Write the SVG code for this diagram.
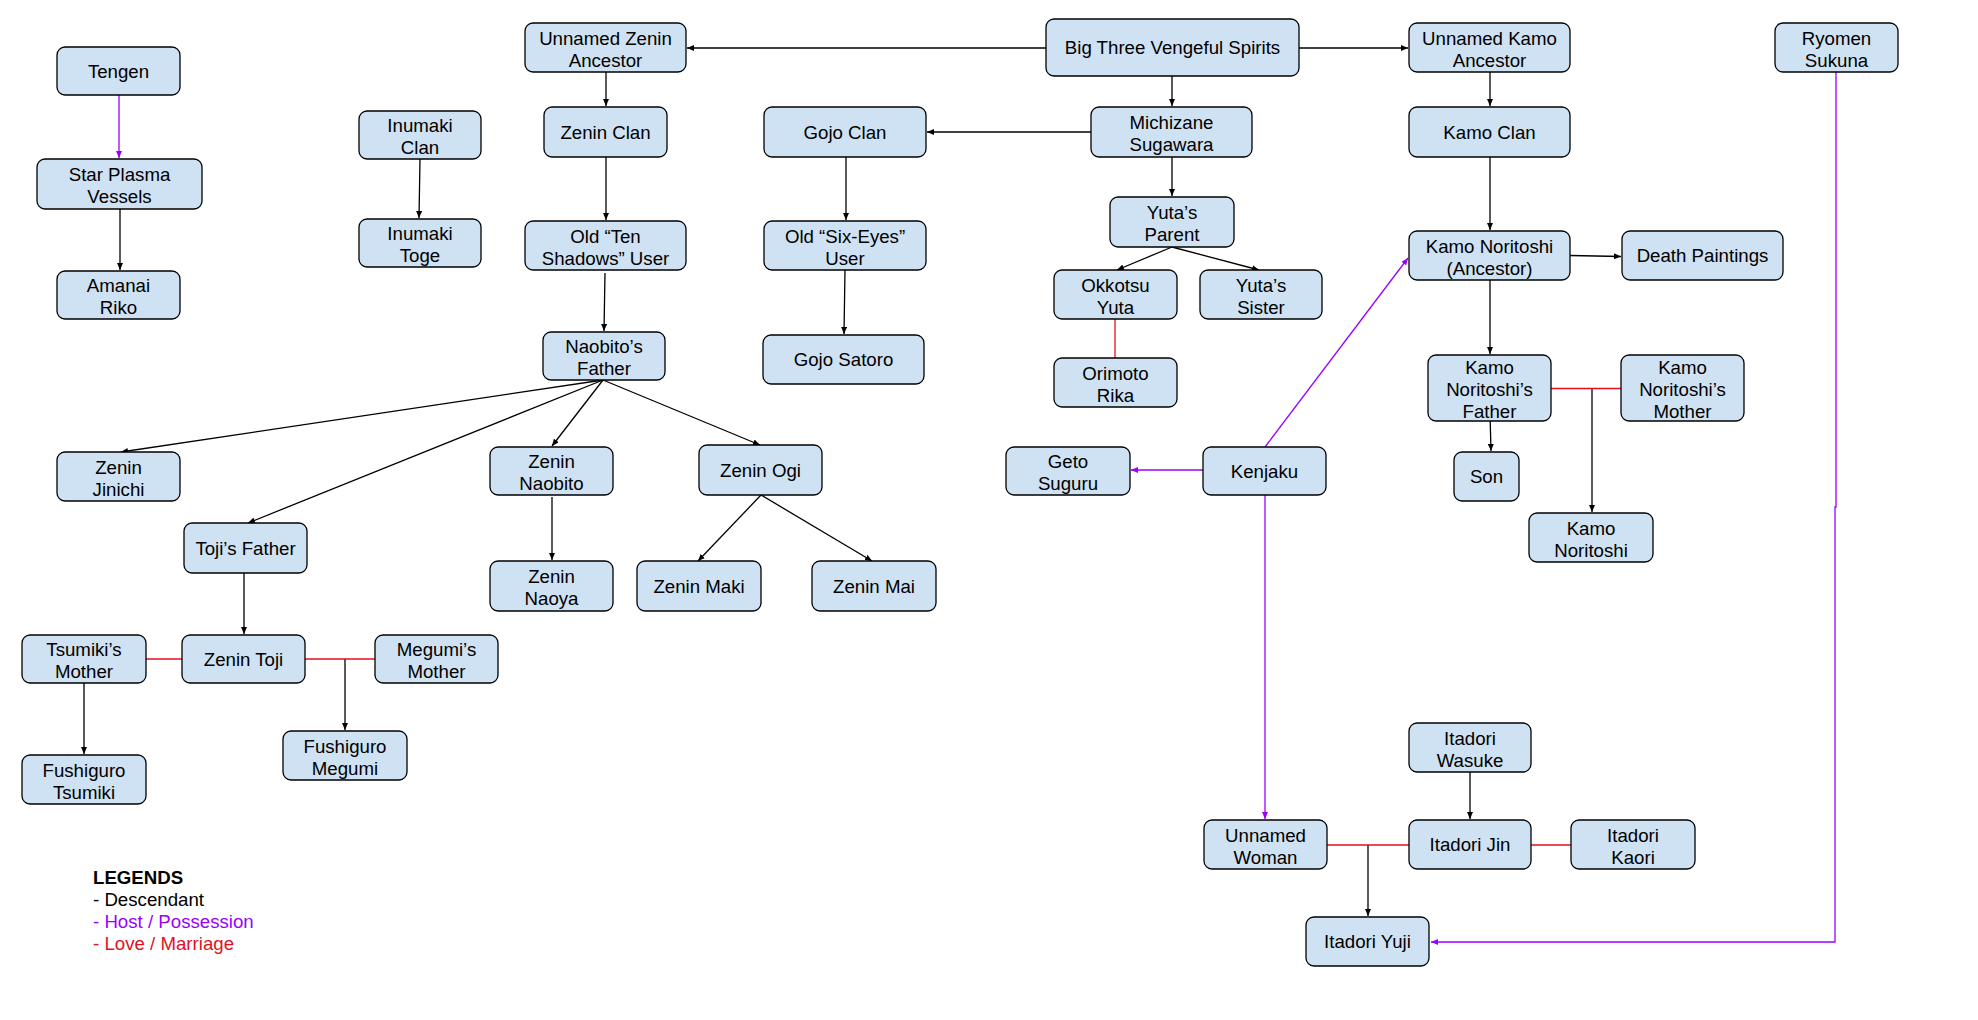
<svg xmlns="http://www.w3.org/2000/svg" width="1978" height="1020" viewBox="0 0 1978 1020">
<defs>
<style>
.n rect{fill:#cfe2f3;stroke:#000;stroke-width:1.3}
.n text{font-family:"Liberation Sans",Arial,sans-serif;font-size:18.67px;fill:#000;text-anchor:middle}
.d{stroke:#000;stroke-width:1.3;fill:none}
.p{stroke:#9900ff;stroke-width:1.3;fill:none}
.r{stroke:#e3101e;stroke-width:1.3;fill:none}
.lg{font-family:"Liberation Sans",Arial,sans-serif;font-size:18.67px}
</style>
<marker id="ab" markerUnits="userSpaceOnUse" markerWidth="8" markerHeight="6" refX="7" refY="3" orient="auto"><path d="M0,0 L7,3 L0,6 z" fill="#000"/></marker>
<marker id="ap" markerUnits="userSpaceOnUse" markerWidth="8" markerHeight="6" refX="7" refY="3" orient="auto"><path d="M0,0 L7,3 L0,6 z" fill="#9900ff"/></marker>
</defs>
<rect width="1978" height="1020" fill="#fff"/>
<g id="connectors">
<line class="d" x1="1046" y1="48" x2="687" y2="48" marker-end="url(#ab)"/>
<line class="d" x1="1299" y1="48" x2="1408" y2="48" marker-end="url(#ab)"/>
<line class="d" x1="1172" y1="76" x2="1172" y2="106" marker-end="url(#ab)"/>
<line class="d" x1="1091" y1="132" x2="927" y2="132" marker-end="url(#ab)"/>
<line class="d" x1="1172" y1="157" x2="1172" y2="196" marker-end="url(#ab)"/>
<line class="d" x1="1172" y1="247" x2="1117" y2="270" marker-end="url(#ab)"/>
<line class="d" x1="1172" y1="247" x2="1259" y2="270" marker-end="url(#ab)"/>
<line class="d" x1="846" y1="157" x2="846" y2="220" marker-end="url(#ab)"/>
<line class="d" x1="845" y1="270" x2="844" y2="334" marker-end="url(#ab)"/>
<line class="d" x1="606" y1="72" x2="606" y2="106" marker-end="url(#ab)"/>
<line class="d" x1="606" y1="157" x2="606" y2="220" marker-end="url(#ab)"/>
<line class="d" x1="605" y1="273" x2="604" y2="331" marker-end="url(#ab)"/>
<line class="d" x1="603" y1="380" x2="121" y2="452" marker-end="url(#ab)"/>
<line class="d" x1="603" y1="380" x2="248" y2="523" marker-end="url(#ab)"/>
<line class="d" x1="603" y1="380" x2="552" y2="446" marker-end="url(#ab)"/>
<line class="d" x1="603" y1="380" x2="760" y2="445" marker-end="url(#ab)"/>
<line class="d" x1="552" y1="497" x2="552" y2="560" marker-end="url(#ab)"/>
<line class="d" x1="761" y1="495" x2="698" y2="561" marker-end="url(#ab)"/>
<line class="d" x1="761" y1="495" x2="872" y2="561" marker-end="url(#ab)"/>
<line class="d" x1="244" y1="573" x2="244" y2="634" marker-end="url(#ab)"/>
<line class="d" x1="345" y1="659" x2="345" y2="730" marker-end="url(#ab)"/>
<line class="d" x1="84" y1="683" x2="84" y2="754" marker-end="url(#ab)"/>
<line class="d" x1="120" y1="209" x2="120" y2="270" marker-end="url(#ab)"/>
<line class="d" x1="420" y1="159" x2="419" y2="218" marker-end="url(#ab)"/>
<line class="d" x1="1490" y1="72" x2="1490" y2="106" marker-end="url(#ab)"/>
<line class="d" x1="1490" y1="157" x2="1490" y2="230" marker-end="url(#ab)"/>
<line class="d" x1="1570" y1="255.5" x2="1621" y2="256.5" marker-end="url(#ab)"/>
<line class="d" x1="1490" y1="280" x2="1490" y2="354" marker-end="url(#ab)"/>
<line class="d" x1="1490" y1="414" x2="1491" y2="451" marker-end="url(#ab)"/>
<line class="d" x1="1592" y1="388.5" x2="1592" y2="512" marker-end="url(#ab)"/>
<line class="d" x1="1470" y1="772" x2="1470" y2="819" marker-end="url(#ab)"/>
<line class="d" x1="1368" y1="845" x2="1368" y2="916" marker-end="url(#ab)"/>
<line class="r" x1="1115" y1="319" x2="1115" y2="358"/>
<line class="r" x1="146" y1="659" x2="182" y2="659"/>
<line class="r" x1="305" y1="659" x2="375" y2="659"/>
<line class="r" x1="1551" y1="388.5" x2="1621" y2="388.5"/>
<line class="r" x1="1327" y1="845" x2="1409" y2="845"/>
<line class="r" x1="1531" y1="845" x2="1571" y2="845"/>
<line class="p" x1="119" y1="95" x2="119" y2="158" marker-end="url(#ap)"/>
<line class="p" x1="1203" y1="470" x2="1131" y2="470" marker-end="url(#ap)"/>
<line class="p" x1="1265" y1="447" x2="1408" y2="258" marker-end="url(#ap)"/>
<line class="p" x1="1265" y1="495" x2="1265" y2="819" marker-end="url(#ap)"/>
<polyline class="p" points="1836,72 1836,507 1835,507 1835,942 1431,942" marker-end="url(#ap)"/>
</g>
<g id="tengen" class="n"><rect x="57" y="47" width="123" height="48" rx="8"/><text x="118.5" y="77.7">Tengen</text></g>
<g id="star-plasma-vessels" class="n"><rect x="37" y="159" width="165" height="50" rx="8"/><text x="119.5"><tspan x="119.5" y="181">Star Plasma</tspan><tspan x="119.5" y="203">Vessels</tspan></text></g>
<g id="amanai-riko" class="n"><rect x="57" y="271" width="123" height="48" rx="8"/><text><tspan x="118.5" y="292">Amanai</tspan><tspan x="118.5" y="314">Riko</tspan></text></g>
<g id="inumaki-clan" class="n"><rect x="359" y="111" width="122" height="48" rx="8"/><text><tspan x="420" y="132">Inumaki</tspan><tspan x="420" y="154">Clan</tspan></text></g>
<g id="inumaki-toge" class="n"><rect x="359" y="219" width="122" height="48" rx="8"/><text><tspan x="420" y="240">Inumaki</tspan><tspan x="420" y="262">Toge</tspan></text></g>
<g id="unnamed-zenin-ancestor" class="n"><rect x="525" y="23" width="161" height="49" rx="8"/><text><tspan x="605.5" y="44.5">Unnamed Zenin</tspan><tspan x="605.5" y="66.5">Ancestor</tspan></text></g>
<g id="zenin-clan" class="n"><rect x="544" y="107" width="123" height="50" rx="8"/><text x="605.5" y="138.7">Zenin Clan</text></g>
<g id="old-ten-shadows-user" class="n"><rect x="525" y="221" width="161" height="49" rx="8"/><text><tspan x="605.5" y="242.5">Old “Ten</tspan><tspan x="605.5" y="264.5">Shadows” User</tspan></text></g>
<g id="naobitos-father" class="n"><rect x="543" y="332" width="122" height="48" rx="8"/><text><tspan x="604" y="353">Naobito’s</tspan><tspan x="604" y="375">Father</tspan></text></g>
<g id="zenin-jinichi" class="n"><rect x="57" y="452" width="123" height="49" rx="8"/><text><tspan x="118.5" y="473.5">Zenin</tspan><tspan x="118.5" y="495.5">Jinichi</tspan></text></g>
<g id="tojis-father" class="n"><rect x="184" y="523" width="123" height="50" rx="8"/><text x="245.5" y="554.7">Toji’s Father</text></g>
<g id="zenin-naobito" class="n"><rect x="490" y="447" width="123" height="48" rx="8"/><text><tspan x="551.5" y="468">Zenin</tspan><tspan x="551.5" y="490">Naobito</tspan></text></g>
<g id="zenin-naoya" class="n"><rect x="490" y="561" width="123" height="50" rx="8"/><text><tspan x="551.5" y="583">Zenin</tspan><tspan x="551.5" y="605">Naoya</tspan></text></g>
<g id="zenin-ogi" class="n"><rect x="699" y="445" width="123" height="50" rx="8"/><text x="760.5" y="476.7">Zenin Ogi</text></g>
<g id="zenin-maki" class="n"><rect x="637" y="561" width="124" height="50" rx="8"/><text x="699" y="592.7">Zenin Maki</text></g>
<g id="zenin-mai" class="n"><rect x="812" y="561" width="124" height="50" rx="8"/><text x="874" y="592.7">Zenin Mai</text></g>
<g id="tsumikis-mother" class="n"><rect x="22" y="635" width="124" height="48" rx="8"/><text><tspan x="84" y="656">Tsumiki’s</tspan><tspan x="84" y="678">Mother</tspan></text></g>
<g id="zenin-toji" class="n"><rect x="182" y="635" width="123" height="48" rx="8"/><text x="243.5" y="665.7">Zenin Toji</text></g>
<g id="megumis-mother" class="n"><rect x="375" y="635" width="123" height="48" rx="8"/><text><tspan x="436.5" y="656">Megumi’s</tspan><tspan x="436.5" y="678">Mother</tspan></text></g>
<g id="fushiguro-tsumiki" class="n"><rect x="22" y="755" width="124" height="49" rx="8"/><text><tspan x="84" y="776.5">Fushiguro</tspan><tspan x="84" y="798.5">Tsumiki</tspan></text></g>
<g id="fushiguro-megumi" class="n"><rect x="283" y="731" width="124" height="49" rx="8"/><text><tspan x="345" y="752.5">Fushiguro</tspan><tspan x="345" y="774.5">Megumi</tspan></text></g>
<g id="gojo-clan" class="n"><rect x="764" y="107" width="162" height="50" rx="8"/><text x="845" y="138.7">Gojo Clan</text></g>
<g id="old-six-eyes-user" class="n"><rect x="764" y="221" width="162" height="49" rx="8"/><text><tspan x="845" y="242.5">Old “Six-Eyes”</tspan><tspan x="845" y="264.5">User</tspan></text></g>
<g id="gojo-satoro" class="n"><rect x="763" y="335" width="161" height="49" rx="8"/><text x="843.5" y="366.2">Gojo Satoro</text></g>
<g id="big-three-vengeful-spirits" class="n"><rect x="1046" y="19" width="253" height="57" rx="8"/><text x="1172.5" y="54.2">Big Three Vengeful Spirits</text></g>
<g id="michizane-sugawara" class="n"><rect x="1091" y="107" width="161" height="50" rx="8"/><text><tspan x="1171.5" y="129">Michizane</tspan><tspan x="1171.5" y="151">Sugawara</tspan></text></g>
<g id="yutas-parent" class="n"><rect x="1110" y="197" width="124" height="50" rx="8"/><text><tspan x="1172" y="219">Yuta’s</tspan><tspan x="1172" y="241">Parent</tspan></text></g>
<g id="okkotsu-yuta" class="n"><rect x="1054" y="270" width="123" height="49" rx="8"/><text><tspan x="1115.5" y="291.5">Okkotsu</tspan><tspan x="1115.5" y="313.5">Yuta</tspan></text></g>
<g id="yutas-sister" class="n"><rect x="1200" y="270" width="122" height="49" rx="8"/><text><tspan x="1261" y="291.5">Yuta’s</tspan><tspan x="1261" y="313.5">Sister</tspan></text></g>
<g id="orimoto-rika" class="n"><rect x="1054" y="358" width="123" height="49" rx="8"/><text><tspan x="1115.5" y="379.5">Orimoto</tspan><tspan x="1115.5" y="401.5">Rika</tspan></text></g>
<g id="geto-suguru" class="n"><rect x="1006" y="447" width="124" height="48" rx="8"/><text><tspan x="1068" y="468">Geto</tspan><tspan x="1068" y="490">Suguru</tspan></text></g>
<g id="kenjaku" class="n"><rect x="1203" y="447" width="123" height="48" rx="8"/><text x="1264.5" y="477.7">Kenjaku</text></g>
<g id="unnamed-kamo-ancestor" class="n"><rect x="1409" y="23" width="161" height="49" rx="8"/><text><tspan x="1489.5" y="44.5">Unnamed Kamo</tspan><tspan x="1489.5" y="66.5">Ancestor</tspan></text></g>
<g id="kamo-clan" class="n"><rect x="1409" y="107" width="161" height="50" rx="8"/><text x="1489.5" y="138.7">Kamo Clan</text></g>
<g id="kamo-noritoshi-ancestor" class="n"><rect x="1409" y="231" width="161" height="49" rx="8"/><text><tspan x="1489.5" y="252.5">Kamo Noritoshi</tspan><tspan x="1489.5" y="274.5">(Ancestor)</tspan></text></g>
<g id="death-paintings" class="n"><rect x="1622" y="231" width="161" height="49" rx="8"/><text x="1702.5" y="262.2">Death Paintings</text></g>
<g id="kamo-noritoshis-father" class="n"><rect x="1428" y="355" width="123" height="66" rx="8"/><text><tspan x="1489.5" y="374">Kamo</tspan><tspan x="1489.5" y="396">Noritoshi’s</tspan><tspan x="1489.5" y="418">Father</tspan></text></g>
<g id="kamo-noritoshis-mother" class="n"><rect x="1621" y="355" width="123" height="66" rx="8"/><text><tspan x="1682.5" y="374">Kamo</tspan><tspan x="1682.5" y="396">Noritoshi’s</tspan><tspan x="1682.5" y="418">Mother</tspan></text></g>
<g id="son" class="n"><rect x="1454" y="452" width="65" height="49" rx="8"/><text x="1486.5" y="483.2">Son</text></g>
<g id="kamo-noritoshi" class="n"><rect x="1529" y="513" width="124" height="49" rx="8"/><text><tspan x="1591" y="534.5">Kamo</tspan><tspan x="1591" y="556.5">Noritoshi</tspan></text></g>
<g id="ryomen-sukuna" class="n"><rect x="1775" y="23" width="123" height="49" rx="8"/><text><tspan x="1836.5" y="44.5">Ryomen</tspan><tspan x="1836.5" y="66.5">Sukuna</tspan></text></g>
<g id="itadori-wasuke" class="n"><rect x="1409" y="723" width="122" height="49" rx="8"/><text><tspan x="1470" y="744.5">Itadori</tspan><tspan x="1470" y="766.5">Wasuke</tspan></text></g>
<g id="itadori-jin" class="n"><rect x="1409" y="820" width="122" height="49" rx="8"/><text x="1470" y="851.2">Itadori Jin</text></g>
<g id="itadori-kaori" class="n"><rect x="1571" y="820" width="124" height="49" rx="8"/><text><tspan x="1633" y="841.5">Itadori</tspan><tspan x="1633" y="863.5">Kaori</tspan></text></g>
<g id="unnamed-woman" class="n"><rect x="1204" y="820" width="123" height="49" rx="8"/><text><tspan x="1265.5" y="841.5">Unnamed</tspan><tspan x="1265.5" y="863.5">Woman</tspan></text></g>
<g id="itadori-yuji" class="n"><rect x="1306" y="917" width="123" height="49" rx="8"/><text x="1367.5" y="948.2">Itadori Yuji</text></g>
<g id="legend" class="lg">
<text x="93" y="884" font-weight="bold" fill="#000">LEGENDS</text>
<text x="93" y="906" fill="#000">- Descendant</text>
<text x="93" y="928" fill="#9900ff">- Host / Possession</text>
<text x="93" y="950" fill="#e3101e">- Love / Marriage</text>
</g>
</svg>
